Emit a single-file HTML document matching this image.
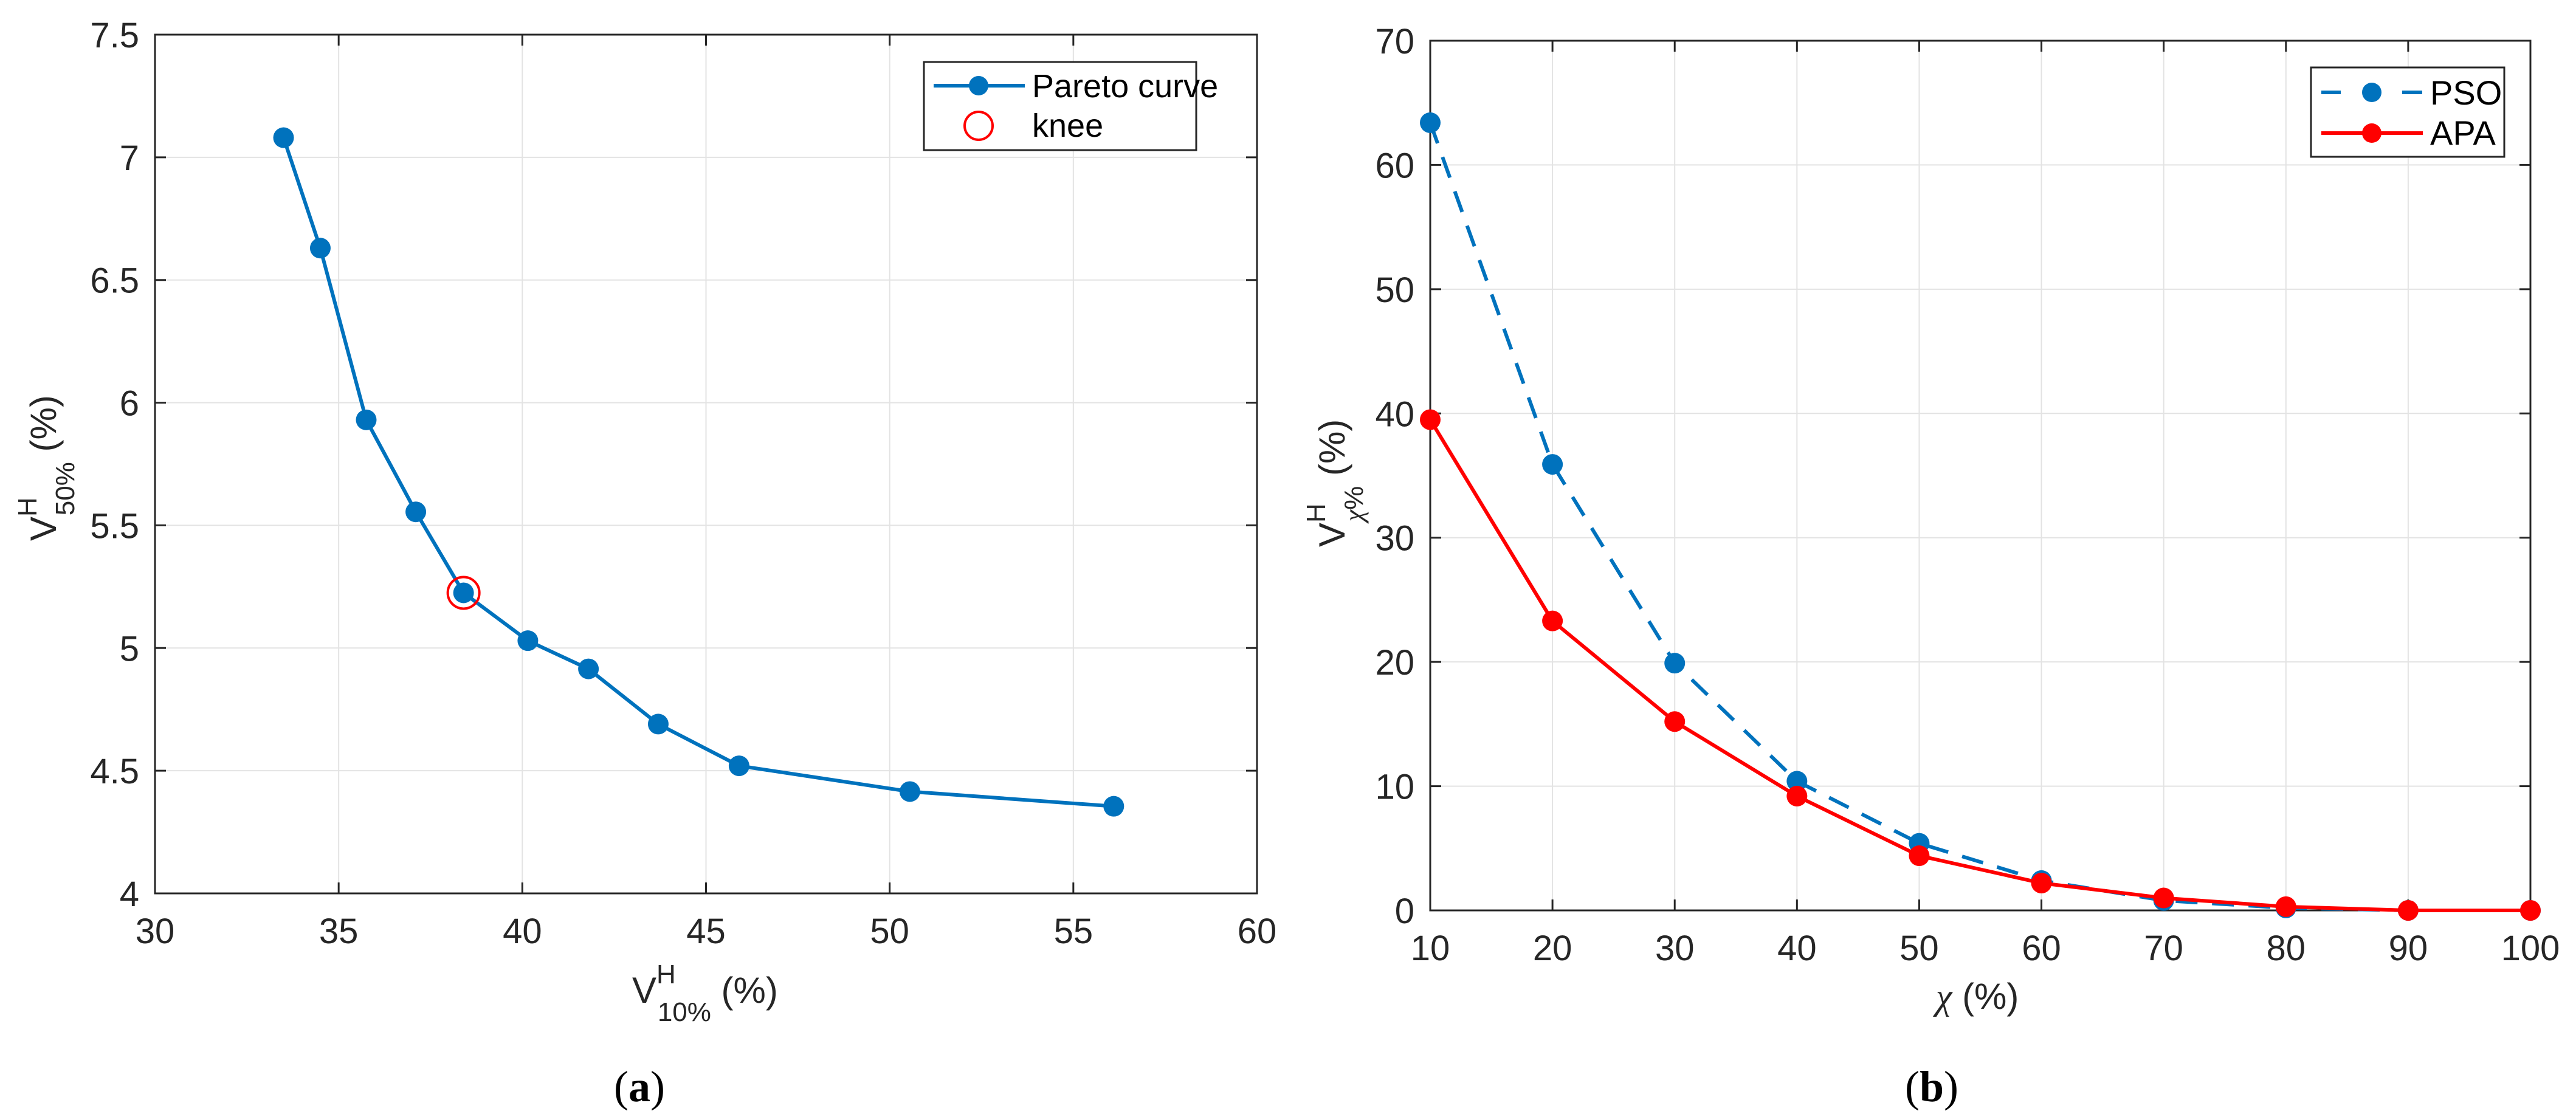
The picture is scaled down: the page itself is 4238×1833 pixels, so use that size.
<!DOCTYPE html>
<html><head><meta charset="utf-8"><style>
html,body{margin:0;padding:0;background:#fff}
svg{display:block}
text{font-family:"Liberation Sans",sans-serif;fill:#262626}
</style></head><body>
<svg id="fig" width="4238" height="1833" viewBox="0 0 4238 1833" xmlns="http://www.w3.org/2000/svg">
<g id="pa"></g>
<g id="pb"></g>
</svg>
<script>
const paretoX=[33.5,34.5,35.75,37.1,38.4,40.15,41.8,43.7,45.9,50.55,56.1];
const paretoY=[7.08,6.63,5.93,5.555,5.225,5.03,4.915,4.69,4.52,4.415,4.355];
const kneeX=[38.4];
const kneeY=[5.225];
const aXTicks=[30,35,40,45,50,55,60];
const aYTicks=[4,4.5,5,5.5,6,6.5,7,7.5];
const aYTickLabels=["4","4.5","5","5.5","6","6.5","7","7.5"];
const chiCats=[10,20,30,40,50,60,70,80,90,100];
const psoVals=[63.4,35.9,19.9,10.4,5.4,2.4,0.8,0.2,0,0];
const apaVals=[39.5,23.3,15.2,9.2,4.4,2.2,1.0,0.3,0,0];
const bXTicks=[10,20,30,40,50,60,70,80,90,100];
const bYTicks=[0,10,20,30,40,50,60,70];

const NS="http://www.w3.org/2000/svg";
function mk(parent,tag,attrs,txt){const e=document.createElementNS(NS,tag);for(const k in attrs)e.setAttribute(k,attrs[k]);if(txt!==undefined)e.textContent=txt;parent.appendChild(e);return e;}

function axes(g,L,R,T,B,xmin,xmax,ymin,ymax,xt,yt,ytl){
  const sx=v=>L+(v-xmin)/(xmax-xmin)*(R-L);
  const sy=v=>B-(v-ymin)/(ymax-ymin)*(B-T);
  xt.forEach(v=>{
    const l=mk(g,'line',{x1:sx(v),x2:sx(v),y1:T,y2:B,stroke:'#e3e3e3','stroke-width':2});
    
    
  });
  yt.forEach(v=>{
    const l=mk(g,'line',{x1:L,x2:R,y1:sy(v),y2:sy(v),stroke:'#e3e3e3','stroke-width':2});
    
    
  });
  const box=mk(g,'rect',{x:L,y:T,width:R-L,height:B-T,fill:'none',stroke:'#262626','stroke-width':3});
  
  
  const tl=18;
  xt.forEach((v,i)=>{
    mk(g,'line',{x1:sx(v),x2:sx(v),y1:B,y2:B-tl,stroke:'#262626','stroke-width':3});
    mk(g,'line',{x1:sx(v),x2:sx(v),y1:T,y2:T+tl,stroke:'#262626','stroke-width':3});
    const t=mk(g,'text',{x:sx(v),y:B+82,'font-size':58,'text-anchor':'middle'},String(v));
    
    
  });
  yt.forEach((v,i)=>{
    mk(g,'line',{x1:L,x2:L+tl,y1:sy(v),y2:sy(v),stroke:'#262626','stroke-width':3});
    mk(g,'line',{x1:R,x2:R-tl,y1:sy(v),y2:sy(v),stroke:'#262626','stroke-width':3});
    const t=mk(g,'text',{x:L-26,y:sy(v)+21,'font-size':58,'text-anchor':'end'},ytl?ytl[i]:String(v));
    
    
  });
  return {sx,sy};
}
function series(g,xs,ys,sx,sy,color,dash,name){
  const pts=xs.map((x,i)=>sx(x)+','+sy(ys[i])).join(' ');
  const pl=mk(g,'polyline',{points:pts,fill:'none',stroke:color,'stroke-width':6,'stroke-dasharray':dash||'none'});
  
  
  xs.forEach((x,i)=>{
    const c=mk(g,'circle',{cx:sx(x),cy:sy(ys[i]),r:17,fill:color});
    
    
  });
}

// Panel A
const ga=document.getElementById('pa');
const A=axes(ga,255,2068,57,1470,30,60,4,7.5,aXTicks,aYTicks,aYTickLabels);
series(ga,paretoX,paretoY,A.sx,A.sy,'#0072BD',null,'pareto');
kneeX.forEach((x,i)=>{
  const k=mk(ga,'circle',{cx:A.sx(x),cy:A.sy(kneeY[i]),r:26,fill:'none',stroke:'#ff0000','stroke-width':4});
  
  
});
const la=mk(ga,'g',{});


mk(la,'rect',{x:1520,y:102,width:448,height:145,fill:'#fff',stroke:'#262626','stroke-width':3});
mk(la,'line',{x1:1536,x2:1686,y1:141,y2:141,stroke:'#0072BD','stroke-width':6});
mk(la,'circle',{cx:1610,cy:141,r:16,fill:'#0072BD'});
mk(la,'text',{x:1698,y:160,'font-size':54,style:'fill:#000'},'Pareto curve');
mk(la,'circle',{cx:1610,cy:207,r:23,fill:'none',stroke:'#ff0000','stroke-width':4});
mk(la,'text',{x:1698,y:225,'font-size':54,style:'fill:#000'},'knee');
const xla=mk(ga,'text',{x:1040,y:1650,'font-size':60});


xla.innerHTML='V<tspan dy="-32" font-size="44">H</tspan><tspan dx="-30" dy="62" font-size="44">10%</tspan><tspan dy="-30"> (%)</tspan>';
const yla=mk(ga,'text',{x:0,y:0,'font-size':60,transform:'translate(92,890) rotate(-90)'});


yla.innerHTML='V<tspan dy="-32" font-size="44">H</tspan><tspan dx="-30" dy="62" font-size="44">50%</tspan><tspan dy="-30"> (%)</tspan>';
const capa=mk(ga,'text',{x:1052,y:1812,'font-size':72,'text-anchor':'middle',style:'font-family:\"Liberation Serif\",serif;fill:#000'});


capa.innerHTML='(<tspan font-weight="bold">a</tspan>)';

// Panel B
const gb=document.getElementById('pb');
const B=axes(gb,2353,4163,67,1498,10,100,0,70,bXTicks,bYTicks);
series(gb,chiCats,psoVals,B.sx,B.sy,'#0072BD','36 24','pso');
series(gb,chiCats,apaVals,B.sx,B.sy,'#ff0000',null,'apa');
const lb=mk(gb,'g',{});


mk(lb,'rect',{x:3802,y:111,width:318,height:147,fill:'#fff',stroke:'#262626','stroke-width':3});
mk(lb,'line',{x1:3819,x2:3851,y1:152,y2:152,stroke:'#0072BD','stroke-width':6});
mk(lb,'line',{x1:3952,x2:3985,y1:152,y2:152,stroke:'#0072BD','stroke-width':6});
mk(lb,'circle',{cx:3902,cy:152,r:16,fill:'#0072BD'});
mk(lb,'text',{x:3998,y:172,'font-size':56,style:'fill:#000'},'PSO');
mk(lb,'line',{x1:3819,x2:3986,y1:219,y2:219,stroke:'#ff0000','stroke-width':6});
mk(lb,'circle',{cx:3902,cy:219,r:16,fill:'#ff0000'});
mk(lb,'text',{x:3998,y:238,'font-size':56,style:'fill:#000'},'APA');
const xlb=mk(gb,'text',{x:3185,y:1660,'font-size':60});


xlb.innerHTML='<tspan style="font-family:\'Liberation Serif\',serif;font-style:italic">χ</tspan> (%)';
const ylb=mk(gb,'text',{x:0,y:0,'font-size':60,transform:'translate(2212,900) rotate(-90)'});


ylb.innerHTML='V<tspan dy="-32" font-size="44">H</tspan><tspan dx="-30" dy="62" font-size="44"><tspan style="font-family:\'Liberation Serif\',serif;font-style:italic">χ</tspan>%</tspan><tspan dy="-30"> (%)</tspan>';
const capb=mk(gb,'text',{x:3178,y:1812,'font-size':72,'text-anchor':'middle',style:'font-family:\"Liberation Serif\",serif;fill:#000'});


capb.innerHTML='(<tspan font-weight="bold">b</tspan>)';
</script>
</body></html>
